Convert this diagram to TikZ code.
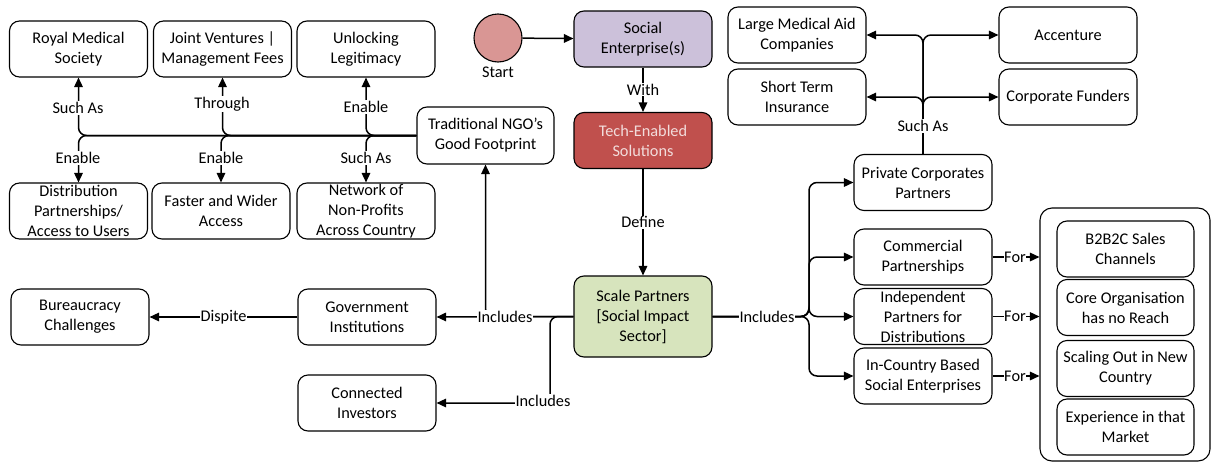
\documentclass[tikz,border=0pt]{standalone}
\usepackage{fontspec}
\setmainfont{Carlito}
\usetikzlibrary{arrows.meta}
\definecolor{seFill}{HTML}{CCC1DA}
\definecolor{techFill}{HTML}{C0504D}
\definecolor{techText}{HTML}{F2DCDB}
\definecolor{scaleFill}{HTML}{D7E4BD}
\definecolor{startFill}{HTML}{D99694}

\begin{document}
\begin{tikzpicture}[x=1pt,y=-1pt,
  every node/.style={font=\fontsize{16.3}{20}\selectfont},
  box/.style={draw, line width=1.1pt, rounded corners=10pt, align=center,
    inner sep=0pt, minimum width=138pt, minimum height=56pt},
  conn/.style={line width=1.5pt, -{Triangle[length=9.5pt,width=8.5pt]}},
  bus/.style={conn, rounded corners=8pt},
  lbl/.style={fill=white, inner sep=1pt}]
\useasboundingbox (0,0) rectangle (1212,463);

% ---------- left cluster around the NGO footprint ----------
\node[box] (rms) at (78.5,49) {Royal Medical\\Society};
\node[box] (jv)  at (222.5,49) {Joint Ventures |\\Management Fees};
\node[box] (ul)  at (366,49) {Unlocking\\Legitimacy};
\node[box] (dist) at (78.5,211) {Distribution\\Partnerships/\\Access to Users};
\node[box] (fwa) at (221,211) {Faster and Wider\\Access};
\node[box] (net) at (366,211) {Network of\\Non-Profits\\Across Country};
\node[box, minimum width=137pt, minimum height=57pt] (ngo) at (485.5,135.5) {Traditional NGO’s\\Good Footprint};

% ---------- central spine ----------
\node[circle, draw, line width=1.1pt, fill=startFill, minimum size=48pt, inner sep=0pt] (start) at (498,38) {};
\node (startlbl) at (498,72) {Start};
\node[box, fill=seFill] (se) at (643,39) {Social\\Enterprise(s)};
\node[box, fill=techFill, text=techText] (tech) at (643,140.5) {Tech-Enabled\\Solutions};
\node[box, fill=scaleFill, minimum height=81pt] (scale) at (643,316.5) {Scale Partners\\{[}Social Impact\\Sector]};

% ---------- corporate partners ----------
\node[box] (lma) at (797,35) {Large Medical Aid\\Companies};
\node[box] (sti) at (797,97) {Short Term\\Insurance};
\node[box] (acc) at (1068,35) {Accenture};
\node[box] (cf)  at (1068,97) {Corporate Funders};
\node[box] (pc)  at (923,182.5) {Private Corporates\\Partners};

% ---------- partnership types ----------
\node[box] (cp) at (923,257) {Commercial\\Partnerships};
\node[box] (ip) at (923,316.5) {Independent\\Partners for\\Distributions};
\node[box] (ic) at (923,376) {In-Country Based\\Social Enterprises};

% ---------- purposes group ----------
\node[draw, line width=1.1pt, rounded corners=12pt, minimum width=170pt, minimum height=253pt, inner sep=0pt] (cont) at (1125,334.5) {};
\node[box, minimum width=137pt] (b2) at (1125.5,249) {B2B2C Sales\\Channels};
\node[box, minimum width=137pt] (co) at (1125.5,307.5) {Core Organisation\\has no Reach};
\node[box, minimum width=137pt] (so) at (1125.5,368.5) {Scaling Out in New\\Country};
\node[box, minimum width=137pt] (ex) at (1125.5,427) {Experience in that\\Market};

% ---------- government and investors ----------
\node[box] (gov) at (367,317) {Government\\Institutions};
\node[box] (bur) at (80,317) {Bureaucracy\\Challenges};
\node[box] (inv) at (367,403) {Connected\\Investors};

\coordinate (invturn) at (550,403);
\coordinate (rbus) at (809,316.5);

% ---------- connectors ----------
\draw[conn] (start) -- (se);
\draw[conn] (se) -- node[lbl] {With} (tech);
\draw[conn] (tech) -- node[lbl] {Define} (scale);

\draw[bus] (ngo.west) -| (rms.south);
\draw[bus] (ngo.west) -| (jv.south);
\draw[bus] (ngo.west) -| (ul.south);
\draw[bus] (ngo.west) -| (dist.north);
\draw[bus] (ngo.west) -| (fwa.north);
\draw[bus] (ngo.west) -| (net.north);
\node[lbl] (l1) at (78,108) {Such As};
\node[lbl] (l2) at (222,104) {Through};
\node[lbl] (l3) at (366,107) {Enable};
\node[lbl] (l4) at (78,158) {Enable};
\node[lbl] (l5) at (221,158) {Enable};
\node[lbl] (l6) at (366,158) {Such As};

\draw[bus] (scale.west) -| (ngo.south);
\draw[bus] (scale.west) -| (invturn) -- (inv.east);
\draw[conn] (scale.west) -- node[lbl] {Includes} (gov.east);
\node[lbl] (l7) at (543,401) {Includes};
\draw[conn] (gov.west) -- node[lbl] {Dispite} (bur.east);

\draw[bus] (scale.east) -- (rbus) |- (pc.west);
\draw[bus] (scale.east) -- (rbus) |- (cp.west);
\draw[bus] (scale.east) -- (rbus) |- (ip.west);
\draw[bus] (scale.east) -- (rbus) |- (ic.west);
\node[lbl] (l8) at (767,316.5) {Includes};

\draw[bus] (pc.north) |- (lma.east);
\draw[bus] (pc.north) |- (sti.east);
\draw[bus] (pc.north) |- (acc.west);
\draw[bus] (pc.north) |- (cf.west);
\node[lbl] (l9) at (923,126) {Such As};

\draw[conn] (cp.east) -- (cp.east -| cont.west);
\draw[conn] (ip.east) -- (ip.east -| cont.west);
\draw[conn] (ic.east) -- (ic.east -| cont.west);
\node[lbl, inner sep=0.5pt] (f1) at (1015,257) {For};
\node[lbl, inner sep=0.5pt] (f2) at (1015,316.5) {For};
\node[lbl, inner sep=0.5pt] (f3) at (1015,376) {For};
\end{tikzpicture}
\end{document}
